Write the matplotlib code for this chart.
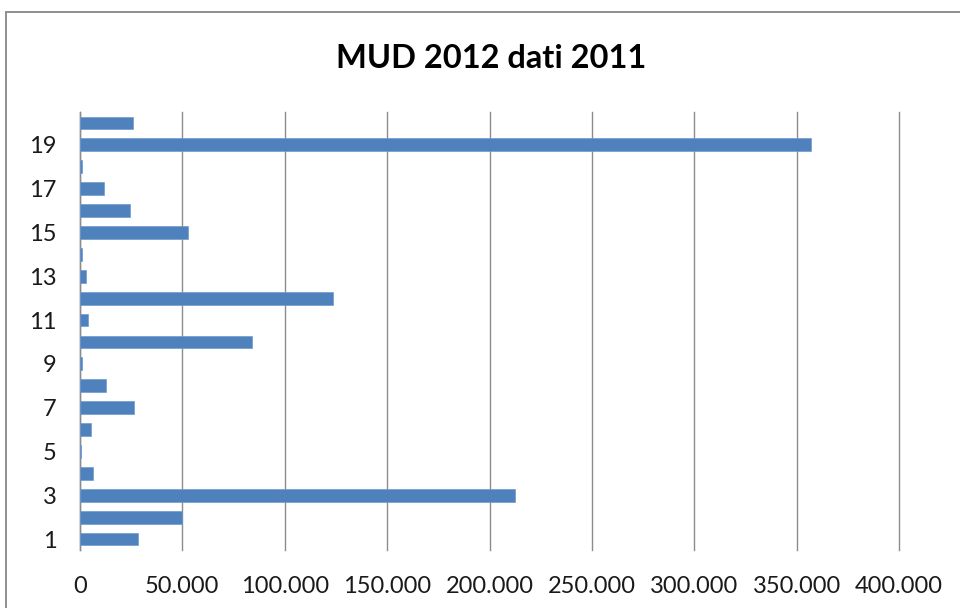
import matplotlib
matplotlib.use("Agg")
import matplotlib.pyplot as plt
from matplotlib.patches import Rectangle
from matplotlib.ticker import FuncFormatter, MultipleLocator

# MUD 2012 declarations (data for 2011), one value per category
categories = list(range(1, 21))
values = [28500, 49800, 212400, 6500, 700, 5200, 26500, 12900, 800, 84200,
          4100, 123800, 2800, 800, 52900, 24600, 11600, 800, 357000, 26000]
title = "MUD 2012 dati 2011"

plt.rcParams["font.family"] = ["Lato", "DejaVu Sans"]

W, H = 960, 608
fig = plt.figure(figsize=(W / 100, H / 100), dpi=100)
fig.patch.set_facecolor("white")

# chart-area frame
fig.patches.append(Rectangle((6 / W, -20 / H), (W + 20) / W, (H - 12 + 20) / H,
                             transform=fig.transFigure, fill=False,
                             edgecolor="#878787", linewidth=1.3))

ax = fig.add_axes([80 / W, (H - 550) / H, (899 - 80) / W, (550 - 112) / H])
ax.barh(categories, values, height=0.58, color="#4F81BD", edgecolor="#6F9AD0",
        linewidth=0.5, zorder=3)

ax.set_xlim(0, 400000)
ax.set_ylim(0.5, 20.5)
ax.xaxis.set_major_locator(MultipleLocator(50000))
ax.xaxis.set_major_formatter(FuncFormatter(lambda v, p: f"{int(v):,}".replace(",", ".")))
ax.set_yticks([c for c in categories if c % 2 == 1])
ax.grid(axis="x", color="#8C8C8C", linewidth=1.0, zorder=0)
for gl in ax.get_xgridlines():
    gl.set_clip_on(False)
for s in ["top", "right", "bottom"]:
    ax.spines[s].set_visible(False)
ax.spines["left"].set_color("#8C8C8C")
ax.spines["left"].set_linewidth(1.0)
ax.tick_params(axis="both", length=0, labelsize=17, colors="#1a1a1a")
ax.tick_params(axis="x", pad=19)
ax.tick_params(axis="y", pad=17)

fig.text(491 / W, 1 - 58 / H, title, ha="center", va="center",
         fontsize=23.5, fontweight="bold", color="black")

fig.savefig("out.png", dpi=100)
